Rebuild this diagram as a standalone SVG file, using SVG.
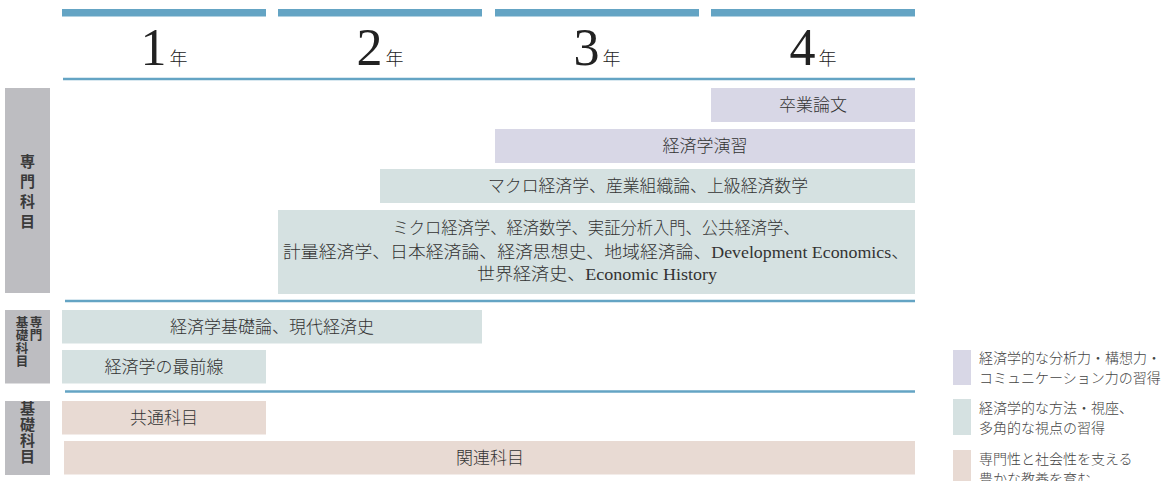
<svg xmlns="http://www.w3.org/2000/svg" width="1175" height="481" viewBox="0 0 1175 481">
<style>
.bar{fill:#64a4c4}
.rule{stroke:#64a4c4;stroke-width:2.5;fill:none}
.lav{fill:#d8d7e6}
.grn{fill:#d5e1e1}
.pnk{fill:#e8dad3}
.cat{fill:#bdbdc1}
.lbl{font-family:"Liberation Serif","Noto Sans CJK JP",serif;font-size:17px;font-weight:300;fill:#333;text-anchor:middle}
.cattx{font-family:"Noto Sans CJK JP",sans-serif;font-size:15px;font-weight:700;fill:#3a3a3a;text-anchor:middle}
.cats{font-family:"Noto Sans CJK JP",sans-serif;font-size:12.5px;font-weight:700;fill:#3a3a3a;text-anchor:middle}
.yr{font-family:"Liberation Serif","Noto Sans CJK JP",serif;fill:#222;text-anchor:middle}
.leg{font-family:"Liberation Serif","Noto Sans CJK JP",serif;font-size:14px;font-weight:300;fill:#444}
</style>
<rect width="1175" height="481" fill="#fff"/>
<g id="years">
<rect class="bar" x="62" y="9" width="204" height="7.5"/>
<rect class="bar" x="278" y="9" width="204" height="7.5"/>
<rect class="bar" x="495" y="9" width="204" height="7.5"/>
<rect class="bar" x="711" y="9" width="204" height="7.5"/>
<text class="yr" x="164" y="65"><tspan font-size="52">1</tspan><tspan font-size="18" font-weight="300" dx="3">年</tspan></text>
<text class="yr" x="380" y="65"><tspan font-size="52">2</tspan><tspan font-size="18" font-weight="300" dx="3">年</tspan></text>
<text class="yr" x="597" y="65"><tspan font-size="52">3</tspan><tspan font-size="18" font-weight="300" dx="3">年</tspan></text>
<text class="yr" x="813" y="65"><tspan font-size="52">4</tspan><tspan font-size="18" font-weight="300" dx="3">年</tspan></text>
</g>
<g id="rules">
<line class="rule" x1="63" y1="79" x2="915" y2="79"/>
<line class="rule" x1="65" y1="301" x2="915" y2="301"/>
<line class="rule" x1="65" y1="391.5" x2="915" y2="391.5"/>
</g>
<g id="cat-senmon">
<rect class="cat" x="5" y="88" width="45" height="205"/>
<text class="cattx"><tspan x="27.5" y="167">専</tspan><tspan x="27.5" y="187">門</tspan><tspan x="27.5" y="207">科</tspan><tspan x="27.5" y="227">目</tspan></text>
</g>
<g id="cat-senmonkiso">
<rect class="cat" x="5" y="310" width="45" height="73.5"/>
<text class="cats"><tspan x="36" y="327">専</tspan><tspan x="36" y="340">門</tspan></text>
<text class="cats"><tspan x="22" y="327">基</tspan><tspan x="22" y="340">礎</tspan><tspan x="22" y="353">科</tspan><tspan x="22" y="366">目</tspan></text>
</g>
<g id="cat-kiso">
<rect class="cat" x="5" y="401" width="45" height="74"/>
<text class="cattx"><tspan x="27.5" y="414">基</tspan><tspan x="27.5" y="430">礎</tspan><tspan x="27.5" y="446">科</tspan><tspan x="27.5" y="462">目</tspan></text>
</g>
<g id="sotsuron">
<rect class="lav" x="711" y="88" width="204" height="34"/>
<text class="lbl" x="813" y="111">卒業論文</text>
</g>
<g id="enshu">
<rect class="lav" x="495" y="129" width="420" height="34"/>
<text class="lbl" x="705" y="152">経済学演習</text>
</g>
<g id="macro">
<rect class="grn" x="380" y="169" width="535" height="34"/>
<text class="lbl" x="648" y="192" textLength="320" lengthAdjust="spacingAndGlyphs">マクロ経済学、産業組織論、上級経済数学</text>
</g>
<g id="micro">
<rect class="grn" x="278" y="210" width="637" height="84"/>
<text class="lbl" x="596" y="234" textLength="407" lengthAdjust="spacingAndGlyphs">ミクロ経済学、経済数学、実証分析入門、公共経済学、</text>
<text class="lbl" x="596" y="258" textLength="626" lengthAdjust="spacingAndGlyphs">計量経済学、日本経済論、経済思想史、地域経済論、Development Economics、</text>
<text class="lbl" x="597" y="280" textLength="240" lengthAdjust="spacingAndGlyphs">世界経済史、Economic History</text>
</g>
<g id="kisoron">
<rect class="grn" x="62" y="310" width="420" height="33.5"/>
<text class="lbl" x="272" y="332.5">経済学基礎論、現代経済史</text>
</g>
<g id="saizensen">
<rect class="grn" x="62" y="350" width="204" height="33.5"/>
<text class="lbl" x="164" y="372.5">経済学の最前線</text>
</g>
<g id="kyotsu">
<rect class="pnk" x="62" y="401" width="204" height="33.5"/>
<text class="lbl" x="164" y="423.5">共通科目</text>
</g>
<g id="kanren">
<rect class="pnk" x="64" y="441" width="851" height="33.5"/>
<text class="lbl" x="490" y="463.5">関連科目</text>
</g>
<g id="legend">
<rect class="lav" x="953" y="350" width="18" height="35"/>
<text class="leg" x="979" y="363">経済学的な分析力・構想力・</text>
<text class="leg" x="979" y="383">コミュニケーション力の習得</text>
<rect class="grn" x="953" y="399" width="18" height="36"/>
<text class="leg" x="979" y="413">経済学的な方法・視座、</text>
<text class="leg" x="979" y="433">多角的な視点の習得</text>
<rect class="pnk" x="953" y="450" width="18" height="31"/>
<text class="leg" x="979" y="464">専門性と社会性を支える</text>
<text class="leg" x="979" y="484">豊かな教養を育む</text>
</g>
</svg>
